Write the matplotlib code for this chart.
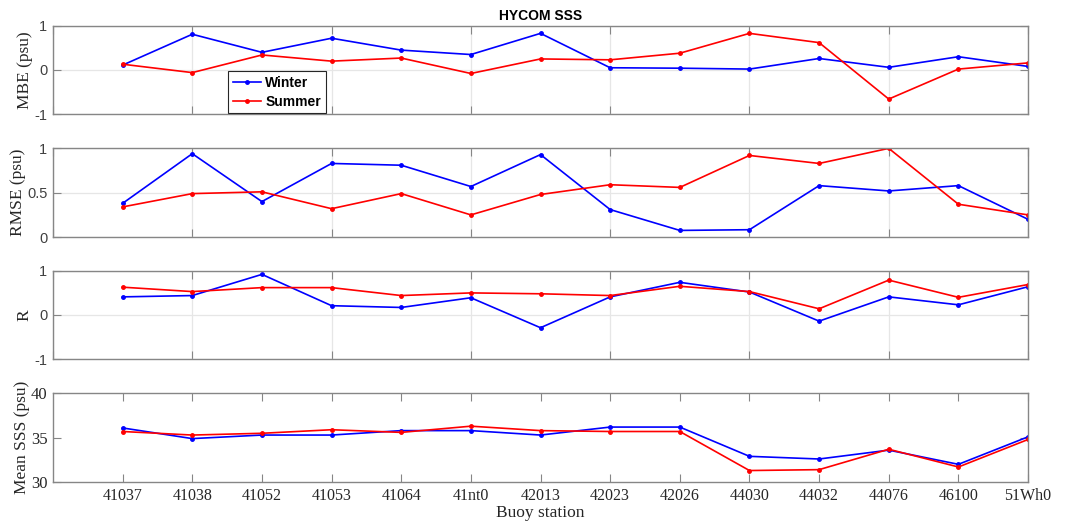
import matplotlib
matplotlib.use('Agg')

import matplotlib.pyplot as plt
import numpy as np

stations = ['41037', '41038', '41052', '41053', '41064', '41nt0', '42013',
            '42023', '42026', '44030', '44032', '44076', '46100', '51Wh0']

mbe_winter = [0.11, 0.81, 0.40, 0.72, 0.45, 0.35, 0.83, 0.05, 0.04, 0.02, 0.26, 0.06, 0.30, 0.08]
mbe_summer = [0.13, -0.06, 0.34, 0.20, 0.27, -0.08, 0.25, 0.23, 0.38, 0.83, 0.62, -0.66, 0.02, 0.16]

rmse_winter = [0.38, 0.94, 0.40, 0.83, 0.81, 0.57, 0.93, 0.31, 0.075, 0.083, 0.58, 0.52, 0.58, 0.20]
rmse_summer = [0.34, 0.49, 0.51, 0.32, 0.49, 0.25, 0.48, 0.59, 0.56, 0.92, 0.83, 1.00, 0.37, 0.25]

r_winter = [0.41, 0.44, 0.92, 0.21, 0.17, 0.39, -0.29, 0.41, 0.74, 0.52, -0.14, 0.41, 0.23, 0.64]
r_summer = [0.63, 0.53, 0.62, 0.62, 0.44, 0.50, 0.48, 0.44, 0.65, 0.53, 0.14, 0.79, 0.40, 0.69]

sss_winter = [36.1, 34.9, 35.3, 35.3, 35.8, 35.8, 35.3, 36.2, 36.2, 32.9, 32.6, 33.6, 32.0, 35.1]
sss_summer = [35.7, 35.3, 35.5, 35.9, 35.6, 36.3, 35.8, 35.7, 35.7, 31.3, 31.4, 33.7, 31.7, 34.8]

panels = [
    ('MBE (psu)', mbe_winter, mbe_summer, (-1, 1), [-1, 0, 1], ['-1', '0', '1']),
    ('RMSE (psu)', rmse_winter, rmse_summer, (0, 1), [0, 0.5, 1], ['0', '0.5', '1']),
    ('R', r_winter, r_summer, (-1, 1), [-1, 0, 1], ['-1', '0', '1']),
    ('Mean SSS (psu)', sss_winter, sss_summer, (30, 40), [30, 35, 40], ['30', '35', '40']),
]

# axes rectangles [left, bottom, width, height]
rects = [
    [0.0497, 0.784, 0.9147, 0.167],
    [0.0497, 0.551, 0.9147, 0.168],
    [0.0497, 0.320, 0.9147, 0.167],
    [0.0497, 0.087, 0.9147, 0.168],
]
# ylabel x offsets, sitting next to each panel's tick labels
label_x = [-0.0205, -0.028, -0.021, -0.024]

serif = ['Liberation Serif', 'DejaVu Serif']
sans = ['Liberation Sans', 'DejaVu Sans']
edge = '#868686'

fig = plt.figure(figsize=(10.66, 5.28), dpi=100)
x = np.arange(1, len(stations) + 1)

axes = []
for i, (label, w, s, ylim, yt, ytl) in enumerate(panels):
    ax = fig.add_axes(rects[i])
    ax.plot(x, w, color='#0000ff', marker='.', markersize=5, lw=1.2, label='Winter')
    ax.plot(x, s, color='#ff0000', marker='.', markersize=5, lw=1.2, label='Summer')
    ax.set_xlim(0, 14)
    ax.set_ylim(*ylim)
    ax.set_yticks(yt)
    ax.set_ylabel(label, family=serif, fontsize=12.5, color='#262626')
    ax.yaxis.set_label_coords(label_x[i], 0.5)
    if i == 3:
        ax.set_yticklabels(ytl, family=serif, fontsize=12, color='#262626')
        ax.set_xticks(x)
        ax.set_xticklabels(stations, family=serif, fontsize=11.5, color='#262626')
        ax.set_xlabel('Buoy station', family=serif, fontsize=12.5, color='#262626', labelpad=1)
    else:
        ax.set_yticklabels(ytl, family=sans, fontsize=10.5, color='#404040')
        ax.set_xticks(np.arange(0, 15, 2))
        ax.set_xticklabels([])
        ax.grid(True, color='#e6e6e6', lw=0.9)
    ax.tick_params(direction='in', length=6, width=0.8, color=edge,
                   top=True, right=True, pad=4)
    for sp in ax.spines.values():
        sp.set_color(edge)
        sp.set_linewidth(1.0)
    axes.append(ax)

axes[0].set_title('HYCOM SSS', family=sans, fontsize=10, fontweight='bold', pad=4)
leg = axes[0].legend(loc='upper left', bbox_to_anchor=(0.18, 0.49), borderaxespad=0,
                     fancybox=False, edgecolor='#262626', framealpha=1, handlelength=2.0,
                     borderpad=0.35, labelspacing=0.35, handletextpad=0.3,
                     prop={'family': sans, 'weight': 'bold', 'size': 10})
leg.get_frame().set_linewidth(0.8)

plt.savefig('out.png', dpi=100)
